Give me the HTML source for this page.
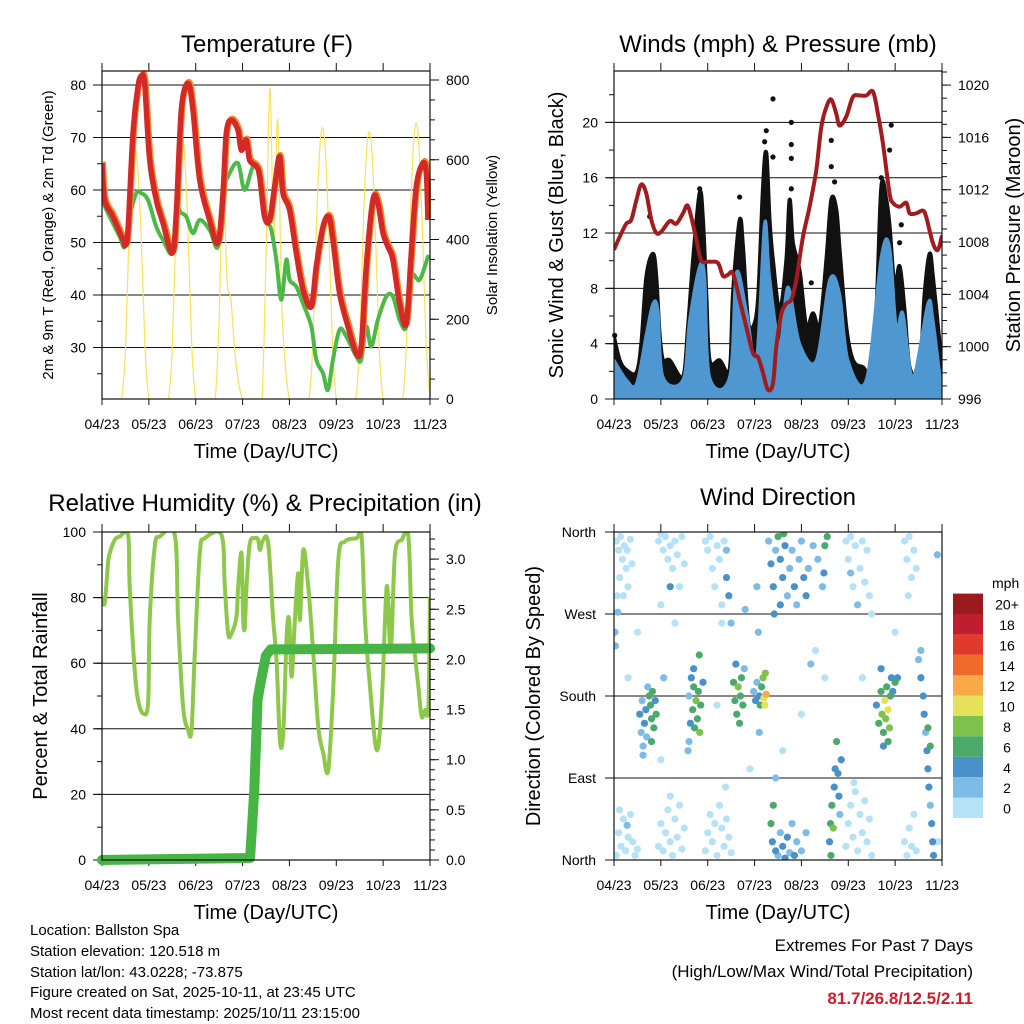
<!DOCTYPE html>
<html><head><meta charset="utf-8"><title>Station Meteogram</title>
<style>
html,body{margin:0;padding:0;background:#fff;}
svg{display:block;font-family:"Liberation Sans",Arial,sans-serif;}
</style></head>
<body>
<svg id="chart" width="1024" height="1024" viewBox="0 0 1024 1024" xmlns="http://www.w3.org/2000/svg">
<rect x="0" y="0" width="1024" height="1024" fill="#fff"/>
<text x="267" y="52" font-size="24" text-anchor="middle">Temperature (F)</text>
<text x="778" y="52" font-size="24" text-anchor="middle">Winds (mph) &amp; Pressure (mb)</text>
<text x="265" y="511" font-size="24" text-anchor="middle">Relative Humidity (%) &amp; Precipitation (in)</text>
<text x="778" y="505" font-size="24" text-anchor="middle">Wind Direction</text>

<text x="266" y="458" font-size="20" text-anchor="middle">Time (Day/UTC)</text>
<text x="778" y="458" font-size="20" text-anchor="middle">Time (Day/UTC)</text>
<text x="266" y="919" font-size="20" text-anchor="middle">Time (Day/UTC)</text>
<text x="778" y="919" font-size="20" text-anchor="middle">Time (Day/UTC)</text>

<text transform="translate(53,235) rotate(-90)" font-size="15" text-anchor="middle">2m &amp; 9m T (Red, Orange) &amp; 2m Td (Green)</text>
<text transform="translate(497,235) rotate(-90)" font-size="15" text-anchor="middle">Solar Insolation (Yellow)</text>
<text transform="translate(563,235) rotate(-90)" font-size="20" text-anchor="middle">Sonic Wind &amp; Gust (Blue, Black)</text>
<text transform="translate(1020,235) rotate(-90)" font-size="20" text-anchor="middle">Station Pressure (Maroon)</text>
<text transform="translate(47,696) rotate(-90)" font-size="20" text-anchor="middle">Percent &amp; Total Rainfall</text>
<text transform="translate(540,696) rotate(-90)" font-size="20" text-anchor="middle">Direction (Colored By Speed)</text>

<g font-size="15">
<text x="30" y="935">Location: Ballston Spa</text>
<text x="30" y="956">Station elevation: 120.518 m</text>
<text x="30" y="977">Station lat/lon: 43.0228; -73.875</text>
<text x="30" y="997">Figure created on Sat, 2025-10-11, at 23:45 UTC</text>
<text x="30" y="1018">Most recent data timestamp: 2025/10/11 23:15:00</text>
</g>
<text x="973" y="951" font-size="17" text-anchor="end">Extremes For Past 7 Days</text>
<text x="973" y="977" font-size="17" text-anchor="end">(High/Low/Max Wind/Total Precipitation)</text>
<text x="973" y="1004" font-size="17" font-weight="bold" fill="#c8202e" text-anchor="end">81.7/26.8/12.5/2.11</text>
</svg>
<script>
// ---------- data ----------
const dayLabels = ["04/23","05/23","06/23","07/23","08/23","09/23","10/23","11/23"];
const tempTimes = [0,.057,.235,.448,.498,.555,.661,.768,.839,.910,1.017,1.159,1.302,1.501,1.586,1.693,1.835,1.942,2.084,2.297,2.475,2.582,2.653,2.760,2.902,2.973,3.080,3.151,3.293,3.364,3.471,3.578,3.684,3.791,3.862,4.004,4.147,4.289,4.467,4.573,4.716,4.844,4.929,5.071,5.249,5.427,5.533,5.640,5.782,5.889,5.996,6.102,6.209,6.351,6.494,6.600,6.707,6.849,6.920,6.956];
const tempValues = [65.1,58.1,54.9,50.5,49.5,52.4,70.8,79.7,81.6,80.3,65.7,58.1,53.7,48.0,55.6,75.2,80.3,75.2,61.9,54.3,49.9,59.4,70.8,73.3,71.4,67.6,69.5,65.7,64.5,62.6,54.9,54.3,60.6,66.4,59.4,56.2,48.0,41.0,37.8,45.4,53.0,54.9,50.5,40.3,34.0,28.9,30.2,45.4,58.1,57.5,51.8,49.2,46.7,38.4,34.6,48.0,60.6,65.1,63.2,54.3];
const dewTimes = [0,.164,.377,.484,.590,.733,.839,.982,1.159,1.302,1.501,1.586,1.693,1.799,1.942,2.084,2.297,2.475,2.582,2.724,2.902,3.044,3.222,3.364,3.471,3.613,3.720,3.826,3.933,4.004,4.147,4.289,4.467,4.573,4.716,4.822,4.929,5.071,5.213,5.427,5.533,5.640,5.747,5.889,6.067,6.209,6.351,6.494,6.600,6.778,6.956];
const dewValues = [58.1,54.9,51.1,49.2,54.9,59.4,59.4,58.1,53.0,50.5,48.0,56.2,55.6,54.9,51.8,54.3,52.4,49.2,59.4,63.2,65.1,60.0,64.5,63.8,55.6,52.4,46.7,39.1,46.7,42.9,41.6,38.4,34.0,27.7,25.1,21.9,27.7,33.4,32.1,28.3,27.7,34.0,30.2,35.3,39.7,39.7,35.3,34.0,43.5,42.9,47.3];
// solar insolation every 2 hours
const solarValues = [0,0,0,0,0,0,120,430,620,600,420,130,
 0,0,0,0,0,0,130,450,650,630,430,130,
 0,0,0,0,0,0,200,560,300,250,120,40,
 0,0,0,0,0,0,350,780,400,700,250,80,
 0,0,0,0,0,0,140,460,660,650,440,140,
 0,0,0,0,0,0,140,460,650,640,430,130,
 0,0,0,0,0,0,150,470,670,660,440,140,0];
const gustTimes = [0,.121,.263,.477,.583,.690,.832,.903,.974,1.046,1.188,1.472,1.579,1.686,1.828,1.899,1.970,2.041,2.255,2.468,2.539,2.681,2.752,2.859,2.966,3.073,3.179,3.250,3.321,3.393,3.535,3.677,3.748,3.819,3.962,4.104,4.246,4.388,4.531,4.637,4.744,4.815,4.957,5.100,5.313,5.455,5.597,5.704,5.811,5.882,5.989,6.095,6.202,6.309,6.522,6.629,6.735,6.807,6.949,7.0];
const gustValues = [4.5,2.8,2.1,1.9,4.0,8.8,10.5,8.8,4.7,2.8,2.8,1.6,5.2,10.0,14.9,12.9,7.6,2.8,2.8,2.1,7.6,12.9,11.0,5.7,5.2,7.2,15.3,17.8,12.9,10.0,6.4,10.0,14.4,11.3,9.3,5.2,6.2,5.2,10.0,14.4,13.7,10.8,5.2,2.8,2.3,2.1,6.4,15.3,14.4,12.5,8.1,9.6,6.4,2.3,2.1,7.6,10.5,8.8,4.0,1.6];
const windTimes = [0,.263,.477,.690,.832,.939,1.046,1.472,1.614,1.828,1.935,2.041,2.468,2.610,2.824,3.037,3.215,3.321,3.535,3.713,3.962,4.317,4.602,4.815,4.993,5.384,5.704,5.882,6.024,6.166,6.380,6.700,6.807,7.0];
const windValues = [2.8,1.4,1.1,4.7,6.9,6.4,1.6,1.4,5.7,9.6,8.8,1.6,1.6,9.1,6.4,2.8,12.7,8.8,4.0,8.1,4.0,2.8,8.6,7.6,2.8,1.4,10.3,11.0,5.2,6.2,1.6,6.9,5.7,0.4];
const gustDotTimes = [3.393,3.784,3.784,3.784,3.784,3.250,3.215,3.393,4.637,4.637,4.708,5.917,5.882,5.704,1.828,2.681,0.761,6.131,6.095,4.210,4.602,0.014];
const gustDotValues = [21.7,20.0,18.4,17.4,15.2,19.4,18.6,17.5,18.7,16.8,15.7,19.8,18.0,16.0,15.2,14.6,13.2,12.6,11.3,8.4,6.7,4.6];
const pressTimes = [0,.121,.263,.370,.477,.583,.690,.797,.903,1.010,1.188,1.330,1.472,1.565,1.650,1.757,1.863,2.041,2.219,2.326,2.432,2.539,2.681,2.824,2.966,3.073,3.179,3.286,3.393,3.464,3.570,3.677,3.784,3.890,4.033,4.175,4.317,4.424,4.531,4.637,4.744,4.815,4.957,5.100,5.242,5.384,5.526,5.633,5.740,5.882,5.953,6.095,6.238,6.309,6.451,6.593,6.664,6.807,6.913,7.0];
const pressValues = [1007.4,1008.4,1009.4,1009.7,1011.2,1012.4,1011.7,1009.7,1008.7,1008.8,1009.6,1009.4,1010.2,1010.8,1009.9,1008.2,1006.6,1006.5,1006.4,1005.4,1005.5,1005.6,1003.6,1001.5,999.5,999.2,998.0,996.7,997.2,1000.0,1002.5,1003.3,1003.6,1005.1,1008.4,1010.7,1013.5,1016.8,1018.3,1018.9,1017.8,1016.9,1017.6,1019.1,1019.2,1019.2,1019.5,1017.8,1015.5,1011.7,1011.0,1010.7,1011.0,1010.2,1010.2,1010.4,1009.9,1007.9,1007.4,1008.5];
const rhTimes = [0,.057,.128,.164,.271,.377,.556,.591,.698,.769,.876,.983,1.019,1.125,1.232,1.553,1.624,1.731,1.838,1.909,1.980,2.087,2.194,2.550,2.621,2.692,2.764,2.870,2.906,2.977,3.013,3.048,3.084,3.155,3.262,3.333,3.369,3.440,3.547,3.654,3.725,3.796,3.868,3.939,3.996,4.046,4.117,4.188,4.224,4.295,4.402,4.509,4.615,4.722,4.829,4.936,5.043,5.185,5.434,5.541,5.613,5.719,5.862,5.969,6.075,6.147,6.182,6.254,6.396,6.538,6.610,6.752,6.823,6.895,6.966,7.0];
const rhValues = [80.3,78.3,90.4,93.5,97.6,98.6,99.1,83.3,57.9,48.8,44.7,47.8,73.2,95.5,98.6,99.1,73.2,46.7,39.6,39.6,63.0,93.5,98.1,99.1,83.3,69.1,69.1,74.2,83.3,93.5,73.2,71.1,83.3,96.5,98.1,97.6,94.5,97.6,96.5,73.2,61.0,36.6,38.6,68.1,73.2,55.9,73.2,87.4,73.2,94.5,83.3,63.0,40.7,32.5,27.4,52.8,91.5,97.1,98.1,98.6,73.2,52.8,33.5,47.8,83.3,65.0,68.1,93.5,97.6,98.6,73.2,52.8,43.7,45.7,46.7,80.3];
const precipTimes = [0,3.16,3.25,3.32,3.39,3.5,3.6,7.0];
const precipValues = [0,0.02,0.7,1.6,1.78,2.04,2.1,2.11];
// wind direction observations: [day, degrees, speed mph]
const windDirObs = [
[0.05,350,1],[0.1,340,1],[0.14,355,1],[0.18,330,1],[0.22,345,1],[0.26,320,1],[0.3,300,1],[0.12,310,1],[0.2,290,1],[0.35,352,1],[0.08,272,3],[0.02,250,3],[0.03,235,3],[0.07,290,1],[0.28,340,1],[0.38,325,1],
[0.05,5,1],[0.1,30,1],[0.15,15,1],[0.2,45,1],[0.25,10,1],[0.3,25,1],[0.35,50,1],[0.4,20,1],[0.45,5,1],[0.28,38,2],[0.12,55,1],[0.5,12,1],
[0.55,160,4],[0.58,140,3],[0.6,175,3],[0.62,125,3],[0.65,150,4],[0.68,165,4],[0.7,135,3],[0.75,180,6],[0.78,170,6],[0.8,155,6],[0.82,185,6],[0.85,145,6],[0.88,175,5],[0.9,160,6],[0.8,130,6],[0.62,115,3],[0.72,190,3],
[0.95,350,1],[1.0,358,1],[1.05,340,1],[1.1,355,1],[1.15,330,1],[1.2,345,1],[1.25,320,1],[1.3,350,1],[1.35,335,1],[1.4,300,1],[1.45,355,1],[1.5,325,1],[1.2,300,4],[1.0,280,1],[1.06,200,3],
[0.95,15,1],[1.0,40,1],[1.05,10,1],[1.1,30,1],[1.15,55,1],[1.2,20,1],[1.25,5,1],[1.3,45,1],[1.35,25,1],[1.4,60,1],[1.45,12,1],[1.5,35,1],[1.2,70,1],
[1.6,180,3],[1.63,150,4],[1.65,200,4],[1.68,165,6],[1.7,190,6],[1.72,145,6],[1.75,175,8],[1.78,155,6],[1.8,185,7],[1.83,140,8],[1.85,170,6],[1.9,195,4],[1.7,210,4],[1.6,130,3],[1.58,120,2],[1.82,225,6],
[1.95,350,1],[2.0,340,1],[2.05,355,1],[2.1,320,1],[2.15,300,1],[2.2,345,1],[2.25,330,1],[2.3,280,1],[2.35,350,1],[2.4,310,4],[2.45,290,4],[2.5,260,2],[2.4,340,3],[2.3,260,1],
[1.95,10,1],[2.0,30,1],[2.05,50,1],[2.1,20,1],[2.15,40,1],[2.2,5,1],[2.25,60,1],[2.3,35,1],[2.35,15,1],[2.4,45,1],[2.45,25,1],[2.5,8,1],[2.38,80,1],
[2.55,195,6],[2.58,175,6],[2.62,160,6],[2.65,190,8],[2.68,150,6],[2.7,180,7],[2.72,200,6],[2.75,170,6],[2.78,210,3],[2.6,215,5],
[2.98,185,3],[3.02,175,4],[3.05,195,3],[3.1,180,5],[3.12,170,6],[3.15,190,6],[3.18,200,8],[3.2,178,10],[3.22,170,10],[3.25,182,12],[3.23,205,8],[3.1,140,2],[3.08,250,3],[3.05,300,3],
[3.3,350,2],[3.35,325,4],[3.4,300,4],[3.42,270,4],[3.45,340,3],[3.5,355,6],[3.55,330,4],[3.6,310,4],[3.62,358,6],[3.65,345,5],[3.7,290,3],[3.75,320,2],[3.8,340,2],[3.85,300,4],[3.9,280,2],[3.95,330,3],[4.0,350,2],[4.05,310,4],[4.1,290,4],[4.15,320,2],[4.25,345,2],[4.35,330,2],[4.45,300,3],[4.5,345,6],[4.55,355,6],[4.48,315,4],[3.55,280,4],
[3.35,40,6],[3.38,20,4],[3.4,60,6],[3.45,10,4],[3.5,5,3],[3.55,30,3],[3.6,15,4],[3.65,2,4],[3.7,25,4],[3.75,8,3],[3.8,40,2],[3.85,5,4],[3.9,20,3],[4.0,10,2],[4.1,30,2],[3.45,90,2],
[4.6,20,4],[4.62,40,6],[4.65,60,6],[4.68,35,8],[4.7,80,5],[4.72,100,4],[4.75,130,6],[4.78,95,4],[4.8,70,4],[4.82,50,3],[4.85,110,4],[4.63,5,6],
[4.95,350,1],[5.0,330,1],[5.05,355,1],[5.1,300,1],[5.15,345,1],[5.2,280,2],[5.25,320,1],[5.3,350,1],[5.35,305,1],[5.4,340,1],[5.45,290,1],[5.05,315,2],
[4.95,15,1],[5.0,40,1],[5.05,60,1],[5.1,25,1],[5.15,75,1],[5.2,10,1],[5.25,50,1],[5.3,30,1],[5.35,65,1],[5.4,20,1],[5.45,45,1],[5.5,5,1],[5.12,85,1],
[5.6,170,4],[5.65,150,6],[5.7,185,6],[5.72,160,8],[5.75,140,6],[5.78,175,10],[5.8,155,8],[5.82,190,6],[5.85,165,10],[5.88,145,8],[5.9,180,6],[5.92,200,5],[5.95,185,4],[6.0,195,6],[6.05,200,5],[5.7,210,4],[5.75,125,4],[5.85,130,6],
[6.2,350,1],[6.25,330,1],[6.3,355,1],[6.35,310,1],[6.4,340,1],[6.45,320,1],[6.28,290,1],[6.2,20,1],[6.25,5,1],[6.3,35,1],[6.35,15,1],[6.4,50,1],[6.45,10,1],
[6.5,220,3],[6.55,200,4],[6.6,180,4],[6.62,160,4],[6.65,140,3],[6.68,120,4],[6.7,100,4],[6.72,80,4],[6.75,60,3],[6.78,40,4],[6.8,20,4],[6.82,5,4],[6.7,145,6],[6.75,125,6],[6.55,230,3],[6.9,335,2],[6.92,20,1],
[0.5,250,1],[1.3,260,1],[2.8,275,3],[4.3,230,1],[4.5,200,1],[3.6,120,1],[4.0,160,1],[5.5,270,1],[5.3,200,1],[0.3,200,1],[1.0,110,1],[2.2,170,1],[2.9,100,1],[4.2,215,2],[6.0,250,1]
];
const speedLabels = ["0","2","4","6","8","10","12","14","16","18","20+"];
const speedColors = ["#b6e2f8","#7ebbe6","#4a90c9","#4baa6b","#7cc24c","#e6e05b","#f8aa48","#f06a2b","#e03a2d","#be1e2d","#9a1a1e"];
const dirLabels = ["North","East","South","West","North"];

// ---------- helpers ----------
const NS = "http://www.w3.org/2000/svg";
const svg = document.getElementById("chart");
function mk(tag, attrs, parent){
  const e = document.createElementNS(NS, tag);
  for (const k in attrs) e.setAttribute(k, attrs[k]);
  (parent || svg).appendChild(e);
  return e;
}
function box(x0,x1,y0,y1){ return {x0,x1,y0,y1, x:d=>x0+d*(x1-x0)/7}; }
const P1 = box(102,430,71,399), P2 = box(614,942,71,399), P3 = box(102,430,532,860), P4 = box(614,942,532,860);
const yT = v => 85 + (80 - v) * 5.25;
const ySolar = v => 399 - v * 319 / 800;
const yWind = v => 399 - v * 13.83;
const yPress = v => 399 - (v - 996) * 13.08;
const yRH = v => 860 - v * 3.28;
const yPrecip = v => 860 - v * 100.3;
const yDir = v => 860 - v * 328 / 360;

function pathFrom(ts, vs, P, fy){
  let d = "";
  for (let i = 0; i < ts.length; i++) d += (i ? "L" : "M") + P.x(ts[i]).toFixed(1) + "," + fy(vs[i]).toFixed(1);
  return d;
}
// smooth Catmull-Rom curve through the data points
function smoothFrom(ts, vs, P, fy){
  const pts = ts.map((t,i)=>[P.x(t), fy(vs[i])]);
  let d = "M" + pts[0][0].toFixed(1) + "," + pts[0][1].toFixed(1);
  for (let i = 0; i < pts.length - 1; i++){
    const p0 = pts[Math.max(0,i-1)], p1 = pts[i], p2 = pts[i+1], p3 = pts[Math.min(pts.length-1,i+2)];
    const c1x = p1[0] + (p2[0]-p0[0])/6, c1y = p1[1] + (p2[1]-p0[1])/6;
    const c2x = p2[0] - (p3[0]-p1[0])/6, c2y = p2[1] - (p3[1]-p1[1])/6;
    d += "C" + c1x.toFixed(1) + "," + c1y.toFixed(1) + " " + c2x.toFixed(1) + "," + c2y.toFixed(1) + " " + p2[0].toFixed(1) + "," + p2[1].toFixed(1);
  }
  return d;
}

function axesFrame(P, name, gridVals, fy, leftMajor, leftMinor, leftFmt, rightMajor, rightMinor, rightFy, rightFmt){
  const g = mk("g", {});
  
  
  gridVals.forEach(v => {
    const ln = mk("line", {x1:P.x0-8, x2:P.x1, y1:fy(v), y2:fy(v), stroke:"#111", "stroke-width":1}, g);
    
    
  });
  dayLabels.forEach((lab, i) => {
    const x = P.x(i);
    mk("line", {x1:x, x2:x, y1:P.y0-8, y2:P.y0, stroke:"#111"}, g);
    mk("line", {x1:x, x2:x, y1:P.y1, y2:P.y1+6, stroke:"#111"}, g);
    const t = mk("text", {x:x, y:P.y1+30, "font-size":14, "text-anchor":"middle"}, g);
    t.textContent = lab;
    
    
  });
  leftMinor.forEach(v => mk("line", {x1:P.x0-5, x2:P.x0, y1:fy(v), y2:fy(v), stroke:"#111"}, g));
  leftMajor.forEach(v => {
    mk("line", {x1:P.x0-9, x2:P.x0, y1:fy(v), y2:fy(v), stroke:"#111"}, g);
    const t = mk("text", {x:P.x0-16, y:fy(v)+5, "font-size":14, "text-anchor":"end"}, g);
    t.textContent = leftFmt(v);
    
    
  });
  if (rightMajor){
    rightMinor.forEach(v => mk("line", {x1:P.x1, x2:P.x1+5, y1:rightFy(v), y2:rightFy(v), stroke:"#111"}, g));
    rightMajor.forEach(v => {
      mk("line", {x1:P.x1, x2:P.x1+9, y1:rightFy(v), y2:rightFy(v), stroke:"#111"}, g);
      const t = mk("text", {x:P.x1+16, y:rightFy(v)+5, "font-size":14}, g);
      t.textContent = rightFmt(v);
      
      
    });
  }
  return g;
}
function frameRect(P, name){
  const r = mk("rect", {x:P.x0, y:P.y0, width:P.x1-P.x0, height:P.y1-P.y0, fill:"none", stroke:"#111", "stroke-width":1.2});
  
  
}
function clipFor(P, id){
  const cp = mk("clipPath", {id:id});
  mk("rect", {x:P.x0, y:P.y0, width:P.x1-P.x0, height:P.y1-P.y0}, cp);
  return "url(#" + id + ")";
}
function range(a,b,s){ const r=[]; for(let v=a; v<=b+1e-9; v+=s) r.push(+v.toFixed(3)); return r; }

// ---------- Panel 1: temperature ----------
axesFrame(P1, "temperature", [30,40,50,60,70,80], yT, [30,40,50,60,70,80], range(25,80,5), v=>v,
  [0,200,400,600,800], range(0,800,50), ySolar, v=>v);
const c1 = clipFor(P1, "clip1");
const solarTimes = solarValues.map((v,i)=>i/12);
const solar = mk("path", {d:smoothFrom(solarTimes, solarValues, P1, ySolar), fill:"none", stroke:"#f9e25a", "stroke-width":1.2, "clip-path":c1});


const dew = mk("path", {d:smoothFrom(dewTimes, dewValues, P1, yT), fill:"none", stroke:"#4cb848", "stroke-width":4, "stroke-linejoin":"round", "stroke-linecap":"round", "clip-path":c1});


const t9 = mk("path", {d:smoothFrom(tempTimes, tempValues, P1, yT), fill:"none", stroke:"#f28a2e", "stroke-width":6, "stroke-linejoin":"round", transform:"translate(1,-1.5)", "clip-path":c1});


const t2 = mk("path", {d:smoothFrom(tempTimes, tempValues, P1, yT), fill:"none", stroke:"#d42a27", "stroke-width":5.5, "stroke-linejoin":"round", "clip-path":c1});


frameRect(P1, "temperature");

// ---------- Panel 2: winds & pressure ----------
axesFrame(P2, "wind", [4,8,12,16,20], yWind, [0,4,8,12,16,20], range(0,22,2), v=>v,
  [996,1000,1004,1008,1012,1016,1020], range(996,1021,1), yPress, v=>v);
const c2 = clipFor(P2, "clip2");
function areaPath(ts, vs, P, fy){
  return smoothFrom(ts, vs, P, fy) + "L" + P.x(ts[ts.length-1]) + "," + fy(0) + "L" + P.x(ts[0]) + "," + fy(0) + "Z";
}
const gustArea = mk("path", {d:areaPath(gustTimes, gustValues, P2, yWind), fill:"#111", stroke:"#111", "stroke-width":4, "stroke-linejoin":"round", "clip-path":c2});


gustDotTimes.forEach((t,i) => {
  const c = mk("circle", {cx:P2.x(t), cy:yWind(gustDotValues[i]), r:2.6, fill:"#111"});
  
  
});
const windArea = mk("path", {d:areaPath(windTimes, windValues, P2, yWind), fill:"#4f97d0", stroke:"#4f97d0", "stroke-width":3, "stroke-linejoin":"round", "clip-path":c2});


const press = mk("path", {d:smoothFrom(pressTimes, pressValues, P2, yPress), fill:"none", stroke:"#a01c1f", "stroke-width":4, "stroke-linejoin":"round", "clip-path":c2});


frameRect(P2, "wind");

// ---------- Panel 3: RH & precip ----------
axesFrame(P3, "humidity", [20,40,60,80], yRH, [0,20,40,60,80,100], range(0,100,10), v=>v,
  [0,0.5,1,1.5,2,2.5,3], range(0,3.2,0.1), yPrecip, v=>v.toFixed(1));
const c3 = clipFor(P3, "clip3");
const rh = mk("path", {d:smoothFrom(rhTimes, rhValues, P3, yRH), fill:"none", stroke:"#8dc84b", "stroke-width":4, "stroke-linejoin":"round", "clip-path":c3});


const pr = mk("path", {d:pathFrom(precipTimes, precipValues, P3, yPrecip), fill:"none", stroke:"#47b446", "stroke-width":10, "stroke-linejoin":"round", "stroke-linecap":"round"});


frameRect(P3, "humidity");

// ---------- Panel 4: wind direction ----------
const g4 = mk("g", {});


[90,180,270,360].forEach(v => mk("line", {x1:P4.x0-9, x2:P4.x1, y1:yDir(v), y2:yDir(v), stroke:"#111"}, g4));
dirLabels.forEach((lab, i) => {
  const v = i*90;
  mk("line", {x1:P4.x0-9, x2:P4.x0, y1:yDir(v), y2:yDir(v), stroke:"#111"}, g4);
  const t = mk("text", {x:P4.x0-18, y:yDir(v)+5, "font-size":14, "text-anchor":"end"}, g4);
  t.textContent = lab;
  
  
});
dayLabels.forEach((lab, i) => {
  const x = P4.x(i);
  mk("line", {x1:x, x2:x, y1:P4.y0-8, y2:P4.y0, stroke:"#111"}, g4);
  mk("line", {x1:x, x2:x, y1:P4.y1, y2:P4.y1+6, stroke:"#111"}, g4);
  const t = mk("text", {x:x, y:P4.y1+30, "font-size":14, "text-anchor":"middle"}, g4);
  t.textContent = lab;
  
  
});
const c4 = clipFor(P4, "clip4");
const g4p = mk("g", {"clip-path":c4});
const sortedObs = windDirObs.slice().sort((a,b)=>a[2]-b[2]);
sortedObs.forEach(o => {
  const bin = Math.min(10, Math.floor(o[2]/2));
  const c = mk("circle", {cx:P4.x(o[0]), cy:yDir(o[1]), r:3.6, fill:speedColors[bin]}, g4p);
  
  
});
frameRect(P4, "direction");

// legend
const lg = mk("g", {});


const lt = mk("text", {x:992, y:588, "font-size":14}, lg);
lt.textContent = "mph";


speedColors.forEach((col, i) => {
  const y = 818 - (i+1)*20.4;
  const r = mk("rect", {x:953, y:y, width:30, height:20.4, fill:col}, lg);
  
  
  const t = mk("text", {x:1007, y:y+16, "font-size":14, "text-anchor":"middle"}, lg);
  t.textContent = speedLabels[i];
  
  
});
</script>
</body></html>
